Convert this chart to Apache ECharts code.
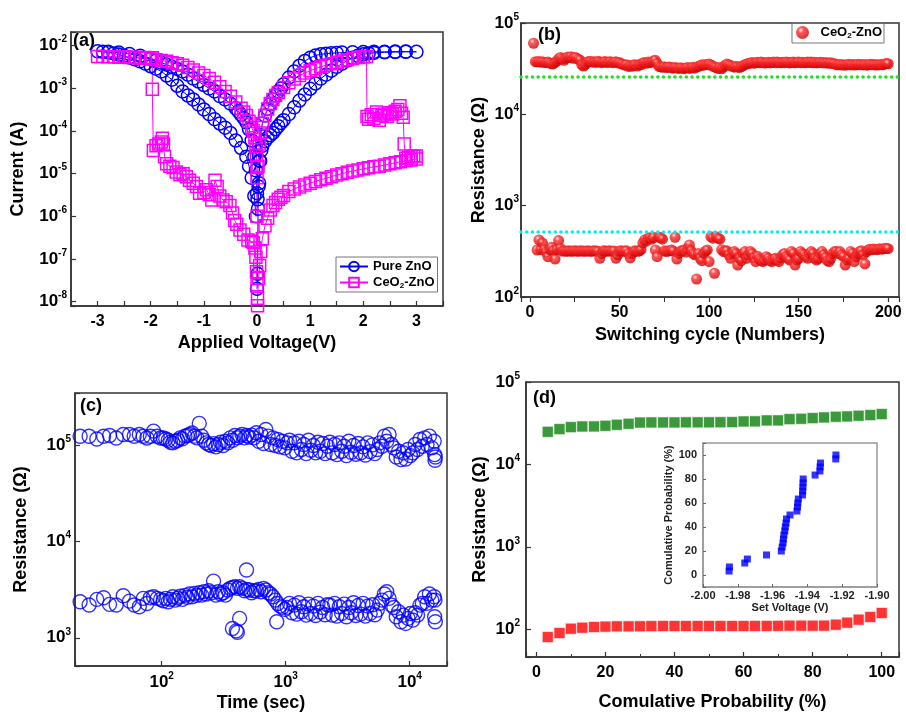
<!DOCTYPE html>
<html>
<head>
<meta charset="utf-8">
<title>CeO2-ZnO resistive switching</title>
<script src="https://cdn.jsdelivr.net/npm/echarts@6/dist/echarts.min.js"></script>
<style>
  html, body { margin: 0; padding: 0; background: #fff; }
  #chart { width: 906px; height: 713px; }
</style>
</head>
<body>
<div id="chart"></div>
<script>
// (a) I-V sweeps, [voltage (V), current (A)] in sweep order
var pureZnoIV = [
  [0, 2e-8], [0.01, 4.5e-8], [0.02, 1.5e-6], [0.04, 6e-6], [0.06, 2e-5], [0.08, 3.5e-5], [0.1, 4.5e-5], [0.15, 5.8e-5], [0.2, 7e-5], [0.25, 8e-5],
  [0.3, 9e-5], [0.35, 1.1e-4], [0.4, 1.3e-4], [0.45, 1.55e-4], [0.5, 1.8e-4], [0.6, 2.5e-4], [0.7, 3.6e-4], [0.8, 5.2e-4], [0.9, 7.2e-4], [1.0, 9.8e-4],
  [1.1, 1.3e-3], [1.2, 1.7e-3], [1.3, 2.1e-3], [1.4, 2.6e-3], [1.5, 3.2e-3], [1.6, 3.8e-3], [1.7, 4.5e-3], [1.8, 5.2e-3], [1.9, 5.8e-3], [2.0, 6.3e-3],
  [2.1, 6.6e-3], [2.2, 6.8e-3], [2.4, 7.0e-3], [2.6, 7.1e-3], [2.8, 7.2e-3], [3.0, 7.2e-3],
  [2.8, 7.3e-3], [2.6, 7.3e-3], [2.4, 7.2e-3], [2.2, 7.2e-3], [2.0, 7.1e-3], [1.8, 7.0e-3], [1.6, 6.9e-3], [1.5, 6.8e-3], [1.4, 6.7e-3], [1.3, 6.5e-3],
  [1.2, 6.3e-3], [1.1, 5.9e-3], [1.0, 5.2e-3], [0.9, 4.4e-3], [0.8, 3.4e-3], [0.7, 2.5e-3], [0.6, 1.8e-3], [0.5, 1.25e-3], [0.45, 1.0e-3], [0.4, 8.5e-4],
  [0.35, 6.8e-4], [0.3, 5.5e-4], [0.25, 4.3e-4], [0.2, 3.3e-4], [0.15, 2.3e-4], [0.1, 1.5e-4], [0.07, 8e-5], [0.05, 2e-5], [0.03, 5e-6], [0.01, 2.5e-6], [0, 3.5e-6],
  [-0.02, 1.2e-5], [-0.05, 2.5e-5], [-0.1, 6e-5], [-0.15, 1.1e-4], [-0.2, 1.6e-4], [-0.25, 2e-4], [-0.3, 2.4e-4], [-0.35, 2.9e-4], [-0.4, 3.4e-4], [-0.5, 4.4e-4],
  [-0.6, 5.5e-4], [-0.7, 6.6e-4], [-0.8, 8.5e-4], [-0.9, 1.0e-3], [-1.0, 1.2e-3], [-1.1, 1.45e-3], [-1.2, 1.7e-3], [-1.3, 2.1e-3], [-1.4, 2.5e-3], [-1.5, 2.85e-3],
  [-1.6, 3.2e-3], [-1.7, 3.6e-3], [-1.8, 4.0e-3], [-1.9, 4.5e-3], [-2.0, 5.0e-3], [-2.2, 5.8e-3], [-2.4, 6.4e-3], [-2.6, 6.9e-3], [-2.8, 7.2e-3], [-3.0, 7.4e-3],
  [-2.9, 7.2e-3], [-2.8, 7.0e-3], [-2.7, 6.6e-3], [-2.6, 6.2e-3], [-2.5, 5.8e-3], [-2.4, 5.3e-3], [-2.3, 4.8e-3], [-2.2, 4.3e-3], [-2.1, 3.8e-3], [-2.0, 3.3e-3],
  [-1.9, 2.9e-3], [-1.8, 2.5e-3], [-1.7, 2.0e-3], [-1.6, 1.6e-3], [-1.5, 1.15e-3], [-1.4, 8.5e-4], [-1.3, 6.8e-4], [-1.2, 5.5e-4], [-1.1, 4.2e-4], [-1.0, 3.2e-4],
  [-0.9, 2.5e-4], [-0.8, 1.9e-4], [-0.7, 1.5e-4], [-0.6, 1.2e-4], [-0.5, 9e-5], [-0.4, 6e-5], [-0.3, 4e-5], [-0.2, 2.5e-5], [-0.15, 1.5e-5], [-0.1, 8e-6],
  [-0.05, 3e-6], [-0.02, 1e-6]
];

var ceoZnoIV = [
  [0, 2.5e-8], [-0.01, 5e-8], [-0.02, 1.1e-7], [-0.04, 1.8e-7], [-0.07, 2.4e-7], [-0.1, 2.6e-7], [-0.17, 2.8e-7], [-0.25, 3.8e-7], [-0.32, 4.8e-7], [-0.38, 6.5e-7],
  [-0.42, 8e-7], [-0.46, 1.2e-6], [-0.51, 1.8e-6], [-0.58, 2.2e-6], [-0.64, 2.4e-6], [-0.7, 3e-6], [-0.75, 5e-6], [-0.79, 7e-6], [-0.85, 2.4e-6], [-0.9, 3.2e-6],
  [-0.95, 4.2e-6], [-1.0, 3.6e-6], [-1.08, 3.5e-6], [-1.14, 5e-6], [-1.2, 6e-6], [-1.27, 7e-6], [-1.33, 8.5e-6], [-1.39, 1.0e-5], [-1.45, 9.5e-6], [-1.52, 1.1e-5],
  [-1.58, 1.4e-5], [-1.64, 1.5e-5], [-1.7, 1.7e-5], [-1.74, 2.5e-5], [-1.76, 5e-5], [-1.78, 6.8e-5], [-1.8, 5.5e-5], [-1.85, 5e-5], [-1.9, 4.5e-5], [-1.95, 3.5e-5],
  [-1.97, 9.5e-4], [-1.97, 5.2e-3],
  [-2.1, 5.3e-3], [-2.3, 5.4e-3], [-2.5, 5.5e-3], [-2.7, 5.5e-3], [-2.9, 5.6e-3], [-3.0, 5.6e-3],
  [-2.8, 5.5e-3], [-2.6, 5.4e-3], [-2.4, 5.3e-3], [-2.2, 5.1e-3], [-2.0, 4.9e-3], [-1.9, 4.7e-3], [-1.8, 4.5e-3], [-1.7, 4.3e-3], [-1.6, 4.0e-3], [-1.5, 3.8e-3],
  [-1.4, 3.5e-3], [-1.3, 3.1e-3], [-1.2, 2.7e-3], [-1.1, 2.3e-3], [-1.0, 2.0e-3], [-0.9, 1.7e-3], [-0.8, 1.4e-3], [-0.7, 1.1e-3], [-0.6, 8.5e-4], [-0.5, 6.5e-4],
  [-0.4, 4.8e-4], [-0.3, 3.4e-4], [-0.25, 2.8e-4], [-0.2, 2.3e-4], [-0.15, 1.7e-4], [-0.1, 1.2e-4], [-0.07, 1.0e-4], [-0.04, 7e-5], [-0.02, 4.3e-5], [-0.01, 2.7e-5],
  [0, 1.4e-5], [0, 8e-6], [0, 1e-6],
  [0.02, 1.5e-5], [0.04, 5e-5], [0.06, 9e-5], [0.1, 1.5e-4], [0.15, 2.3e-4], [0.2, 3.3e-4], [0.25, 4.4e-4], [0.3, 5.5e-4], [0.35, 6.8e-4], [0.4, 8e-4],
  [0.5, 1.05e-3], [0.6, 1.35e-3], [0.7, 1.65e-3], [0.8, 2.0e-3], [0.9, 2.3e-3], [1.0, 2.6e-3], [1.1, 2.9e-3], [1.2, 3.2e-3], [1.3, 3.5e-3], [1.4, 3.8e-3],
  [1.5, 4.1e-3], [1.6, 4.4e-3], [1.7, 4.7e-3], [1.8, 5.0e-3], [1.9, 5.3e-3], [2.0, 5.5e-3], [2.06, 5.6e-3],
  [2.07, 2.2e-4], [2.1, 1.9e-4], [2.15, 2.4e-4], [2.2, 2.0e-4], [2.25, 2.8e-4], [2.3, 1.8e-4], [2.35, 2.3e-4], [2.4, 2.5e-4], [2.45, 2.2e-4], [2.5, 2.7e-4],
  [2.55, 2.5e-4], [2.6, 2.9e-4], [2.65, 3.2e-4], [2.69, 3.9e-4], [2.72, 2.6e-4], [2.75, 2.1e-4], [2.77, 5e-5], [2.8, 2.3e-5], [2.85, 2.4e-5], [2.9, 2.5e-5],
  [2.95, 2.6e-5], [3.0, 2.6e-5],
  [3.0, 2.2e-5], [2.9, 2.1e-5], [2.8, 2.0e-5], [2.7, 1.9e-5], [2.6, 1.8e-5], [2.5, 1.7e-5], [2.4, 1.6e-5], [2.3, 1.5e-5], [2.2, 1.45e-5], [2.1, 1.38e-5],
  [2.0, 1.3e-5], [1.9, 1.22e-5], [1.8, 1.15e-5], [1.7, 1.08e-5], [1.6, 1.0e-5], [1.5, 9.3e-6], [1.4, 8.5e-6], [1.3, 7.8e-6], [1.2, 7.2e-6], [1.1, 6.6e-6],
  [1.0, 6e-6], [0.9, 5.4e-6], [0.8, 4.9e-6], [0.7, 4.4e-6], [0.6, 3.8e-6], [0.5, 3.1e-6], [0.45, 2.8e-6], [0.4, 2.5e-6], [0.35, 2.1e-6], [0.3, 1.8e-6],
  [0.25, 1.4e-6], [0.2, 9e-7], [0.15, 6e-7], [0.1, 3e-7], [0.07, 1.5e-7], [0.05, 7e-8], [0.03, 3.5e-8], [0.01, 1.2e-8], [0.01, 8e-9]
];

// (b) endurance: resistance (ohm) for switching cycle = index + 1
var enduranceHrs = [
  null, 60000,
  37700, 37500, 37800, 37200, 37600, 37000, 36800, 37300, 36500, 35800, 35600,
  37000, 38500, 40500, 42000, 40500, 39000, 41000, 42500, 41800, 42800, 41000, 42000, 41500, 40000, 39200,
  34500, 33800, 35200,
  37500, 37800, 38000, 37200, 37600, 37000, 38200, 37400, 36800, 37300, 37800, 36900, 37400, 37700, 36800, 37200, 37600, 36500, 36900, 35800, 35200,
  34500, 35000, 33500, 34200, 33600, 35000, 34600, 33800, 35200, 34900,
  36500, 37000, 36200, 37300, 36800, 37500, 38500, 39000, 36000,
  33500, 33000, 32800, 33200, 32500, 32800, 33000, 32400, 32000, 32600, 32200, 31800, 32400, 32000, 31600, 32200, 32500, 31800, 32300, 32700, 32000, 33000, 33500, 34000,
  35000, 34500, 35200, 34800, 35500, 34600, 33800, 33000,
  32500, 31800, 32600, 31500, 32800, 34500,
  35500, 34800, 34200, 33500, 32800, 33600, 33000, 32500, 33400, 34200, 35000, 35600, 36000,
  36500, 37000, 36200, 36800, 37200, 36600, 37400, 37000, 36400, 36800, 37100, 36500, 36900, 37300, 36700, 37500, 37000, 36600, 37200, 36800,
  37400, 37000, 36500, 36900, 37300, 36700, 37100, 37500, 36800, 37200, 36600, 37000, 37400, 36900, 37300, 36700, 37100, 36500, 36900, 37200,
  36600, 37000, 36400, 36800, 36200, 36600, 36000, 35800,
  35000, 34800, 35200, 34600, 35000, 34500, 34900, 35300, 34700, 35100, 34600, 35000, 35400, 34800, 35200, 34700, 35100, 34500, 34900, 35300,
  34800, 35100, 34600, 35000, 34700,
  35200, 34800, 35500, 36000, 35800
];
var enduranceLrs = [
  null, null, null,
  327, 421, 330, 390, 330, 310, 276, 330, 350, 320, 260, 330, 415, 340,
  318, 320, 316, 318, 320, 317, 319, 321, 318, 316, 320, 318, 319, 317, 320, 318, 316, 319, 321, 318, 316,
  265, 300, 320, 318, 316, 320, 318, 317, 319, 265, 290, 318, 320, 316, 318, 320, 300, 268, 300, 318, 320, 316, 318, 330, 390,
  421, 410, 440, 445, 430, 450, 327, 276, 450, 445, 430, 320,
  315, 318, 320, 327, 318, 450, 260, 300, 318, 320, 327, 310, 340, 371, 320, 300, 290, 157, 300, 265,
  250, 300, 318, 327, 244, 457, 440, 182, 457, 440, 430, 330, 314, 318, 320,
  290, 265, 300, 314, 300, 224, 265, 250, 300, 314, 265, 290, 314, 300, 270, 244, 280, 260, 250, 244,
  254, 276, 265, 250, 244, 260, 265, 254, 244, 270, 290, 300, 276, 265, 254, 314, 300, 224, 254, 265,
  314, 300, 290, 276, 265, 300, 314, 300, 265, 254, 265, 300, 314, 290, 270, 250, 244, 265, 300, 314, 314, 300, 314,
  290, 276, 224, 254, 265, 314, 300, 244, 276, 300, 314, 320, 290, 230, 314,
  330, 334, 330, 336, 332, 330, 338, 334, 336, 340, 342, 338
];
var hrsGuide = 26000;
var lrsGuide = 520;

// (c) retention: time (s) and resistance (ohm)
var retentionTime = [
  22, 26, 30, 34, 38, 43, 49, 55, 60, 66, 71, 76, 81, 86, 92, 98,
  103, 108, 113, 118, 123, 129, 135, 141, 147, 154, 161, 168, 176, 184, 192, 201, 210, 219, 229, 240,
  251, 262, 274, 286, 299, 313, 327, 342, 357, 373, 390, 408, 426, 445, 465, 486, 508, 531, 555,
  580, 606, 633, 662, 692, 723, 755, 789, 825, 862, 901, 942, 984, 1028,
  1074, 1123, 1173, 1226, 1281, 1339, 1399, 1462, 1528, 1597, 1669, 1744, 1822, 1904, 1990, 2080, 2173,
  2271, 2373, 2480, 2592, 2708, 2830, 2958, 3091, 3230, 3375, 3527, 3686, 3852, 4025, 4206, 4396, 4593, 4800, 5016, 5242,
  5478, 5725, 5982, 6252, 6533, 6827, 7135,
  7456, 7791, 8142, 8509, 8891, 9292, 9710, 10147,
  10603, 11080, 11579, 12100, 12645, 13214, 13809, 14430, 15079, 15758,
  15900, 16000, 16100
];
var retentionHrs = [
  123000, 123000, 115000, 123000, 125000, 118000, 128000, 128000, 123000, 128000, 123000, 118000, 123000, 139000, 123000, 118000,
  118000, 115000, 111800, 106600, 104900, 109200, 111800, 118300, 115500, 123100, 125100, 128100, 133000, 123100, 118300, 167000, 123100, 111800, 104900, 100800,
  98400, 103000, 95300, 100800, 106600, 98400, 109200, 104900, 118300, 111800, 125100, 118300, 123100, 128100, 118300, 125100, 120200, 126100, 118300,
  133400, 109200, 128100, 103250, 144400, 123100, 100800, 118300, 98420, 113700, 95330, 109200, 93070, 104900,
  111800, 85900, 104900, 82540, 109200, 89410, 100800, 81230, 111800, 87990, 98420, 82540, 106600, 85900, 103250, 81230, 96850,
  106600, 82540, 100800, 79300, 104900, 85900, 96850, 77430, 109200, 83860, 98420, 79950, 103250, 82540, 95330, 78660, 104900, 85210, 100000, 81230,
  89410, 104900, 96850, 123100, 109200, 128100, 100800,
  93070, 74990, 85900, 70340, 82540, 71480, 89410, 77430,
  82540, 100800, 89410, 113700, 96850, 118300, 100800, 123100, 93070, 109200,
  79300, 69220, 74990
];
var retentionLrs = [
  2365, 2185, 2500, 2600, 2220, 2185, 2730, 2400, 2185, 2100, 2560, 2270, 2600, 2665, 2560, 2500,
  2420, 2560, 2365, 2500, 2665, 2460, 2580, 2700, 2500, 2750, 2625, 2840, 2665, 2885, 2750, 2930, 2770, 3000, 2840, 3070,
  2930, 3870, 2770, 3000, 2840, 2930, 2770, 3125, 3250, 3320, 3380, 3250, 3380, 3250, 3070, 3180, 3125, 2930, 3070,
  3070, 3180, 3000, 3250, 3125, 2930, 2840, 2665, 2460, 2270, 2130, 2065, 1970, 2065,
  2272, 1818, 2183, 1761, 2308, 1862, 2098, 1719, 2236, 1789, 2132, 1705, 2272, 1847, 2064, 1733, 2201,
  2183, 1719, 2272, 1678, 2098, 1789, 2236, 1652, 2064, 1818, 2308, 1705, 2165, 1761, 2272, 1678, 2132, 1789, 2201, 1733,
  1937, 2272, 2460, 2840, 3002, 2560, 2183,
  2064, 1652, 1862, 1466, 1719, 1409, 1588, 1789,
  1525, 1818, 1719, 2183, 2272, 2665, 2272, 2840, 2460, 2665,
  1652, 2460, 1466
];
var retentionLrsOutTime = [372, 400, 408, 425, 483, 847];
var retentionLrsOut = [1250, 1180, 1140, 1590, 5040, 1466];

// (d) cumulative distribution
var cumProb = [3.3, 6.7, 10, 13.3, 16.7, 20, 23.3, 26.7, 30, 33.3, 36.7, 40, 43.3, 46.7, 50,
  53.3, 56.7, 60, 63.3, 66.7, 70, 73.3, 76.7, 80, 83.3, 86.7, 90, 93.3, 96.7, 100];
var distHrs = [24860, 26800, 28340, 28870, 28900, 29420, 30250, 31110, 32200, 32300, 32300, 32300, 32400, 32400, 32400,
  32500, 32600, 33210, 33300, 34170, 34200, 35450, 35790, 36470, 37150, 37850, 38210, 38940, 39670, 40800];
var distLrs = [80.3, 89.8, 101.4, 104.3, 106.3, 107.5, 108.3, 108.3, 108.5, 109, 109.3, 109.3, 109.3, 109.3, 109.3,
  109.3, 109.3, 109.3, 109.5, 109.5, 109.8, 110.3, 110.3, 110.3, 110.5, 113.4, 120, 130.5, 140.7, 157.3];
var setVoltage = [-1.985, -1.9848, -1.976, -1.9745, -1.9635, -1.955, -1.9545, -1.954, -1.9538, -1.9535, -1.953, -1.9527, -1.9523, -1.952, -1.950,
  -1.946, -1.9457, -1.9455, -1.9452, -1.9428, -1.9427, -1.9426, -1.9425, -1.9424, -1.9356, -1.9328, -1.9327, -1.9325, -1.9237, -1.9236];

var FONT = "'Liberation Sans', Arial, Helvetica, sans-serif";

function powerLabel(v) {
  var e = Math.log(v) / Math.LN10;
  var r = Math.round(e);
  if (Math.abs(e - r) > 1e-6) return '';
  return '{b|10}{s|' + r + '}';
}
var logRich = {
  b: { fontSize: 17, fontWeight: 'bold', fontFamily: FONT, color: '#000', lineHeight: 22 },
  s: { fontSize: 10, fontWeight: 'bold', fontFamily: FONT, color: '#000', verticalAlign: 'top', lineHeight: 12 }
};

function ax(grid, extra) {
  var a = {
    gridIndex: grid,
    axisLine: { show: true, onZero: false, lineStyle: { color: '#333', width: 1.5 } },
    axisTick: { show: true, inside: true, length: 5, lineStyle: { color: '#333', width: 1.2 } },
    splitLine: { show: false },
    axisLabel: { color: '#000', fontSize: 16, fontWeight: 'bold', fontFamily: FONT },
    nameLocation: 'middle',
    nameTextStyle: { color: '#000', fontSize: 18, fontWeight: 'bold', fontFamily: FONT }
  };
  for (var k in extra) {
    if (a[k] && typeof extra[k] === 'object' && !Array.isArray(extra[k])) Object.assign(a[k], extra[k]);
    else a[k] = extra[k];
  }
  return a;
}

function pairs(xs, ys) {
  var out = [];
  for (var i = 0; i < ys.length; i++) if (ys[i] != null) out.push([xs[i], ys[i]]);
  return out;
}
function byCycle(vals) {
  var out = [];
  vals.forEach(function (v, i) { if (v != null) out.push([i + 1, v]); });
  return out;
}

var sphere = {
  type: 'radial', x: 0.38, y: 0.32, r: 0.7,
  colorStops: [
    { offset: 0, color: '#ffe6e6' },
    { offset: 0.3, color: '#ff3030' },
    { offset: 1, color: '#c80000' }
  ]
};
var hollowBlue = { color: 'rgba(0,0,255,0)', borderColor: '#0000ff', borderWidth: 1.4 };

var legendRich = {
  t: { fontSize: 13, fontWeight: 'bold', fontFamily: FONT, color: '#000', lineHeight: 15 },
  sub: { fontSize: 8, fontWeight: 'bold', fontFamily: FONT, color: '#000', verticalAlign: 'bottom', lineHeight: 8 }
};
function legendText(name) {
  if (name === 'Pure ZnO') return '{t|Pure ZnO}';
  return '{t|CeO}{sub|2}{t|-ZnO}';
}

var gridBox = { show: true, borderColor: '#333', borderWidth: 1.5, containLabel: false, outerBoundsMode: 'none' };

var option = {
  animation: false,
  backgroundColor: '#fff',
  grid: [
    Object.assign({ left: 71, top: 32, width: 372, height: 274 }, gridBox),
    Object.assign({ left: 521, top: 23, width: 378, height: 274 }, gridBox),
    Object.assign({ left: 75, top: 393, width: 372, height: 273 }, gridBox),
    Object.assign({ left: 526, top: 382, width: 373, height: 275 }, gridBox),
    Object.assign({ left: 703, top: 443, width: 174, height: 144 }, gridBox, { borderColor: '#999', backgroundColor: '#fff' })
  ],
  xAxis: [
    ax(0, { type: 'value', min: -3.5, max: 3.5, interval: 0.5, name: 'Applied Voltage(V)', nameGap: 28,
      axisLabel: { margin: 8, formatter: function (v) { return Math.abs(v - Math.round(v)) < 1e-9 ? String(Math.round(v)) : ''; } } }),
    ax(1, { type: 'value', min: -5, max: 206, name: 'Switching cycle (Numbers)', nameGap: 29,
      axisTick: { inside: false },
      minorTick: { show: true, splitNumber: 2, length: 5, lineStyle: { color: '#333' } },
      axisLabel: { margin: 8, formatter: function (v) { return v % 50 === 0 ? String(v) : ''; } } }),
    ax(2, { type: 'log', min: 20, max: 20000, name: 'Time (sec)', nameGap: 28,
      axisLabel: { margin: 5, formatter: powerLabel, rich: logRich } }),
    ax(3, { type: 'value', min: -3, max: 105, name: 'Comulative Probability (%)', nameGap: 36,
      minorTick: { show: true, splitNumber: 2, length: 3, lineStyle: { color: '#333' } },
      axisLabel: { margin: 8, formatter: function (v) { return v % 20 === 0 ? String(v) : ''; } } }),
    ax(4, { type: 'value', min: -2.0, max: -1.9, name: 'Set Voltage (V)', nameGap: 15,
      axisLine: { lineStyle: { color: '#999', width: 1.5 } },
      axisTick: { length: 3, lineStyle: { color: '#666' } },
      axisLabel: { margin: 3, fontSize: 11, fontWeight: 'bold', color: '#222', formatter: function (v) { return v.toFixed(2); } },
      nameTextStyle: { fontSize: 11, fontWeight: 'bold', color: '#222' } })
  ],
  yAxis: [
    ax(0, { type: 'log', min: 7.9e-9, max: 0.021, name: 'Current (A)', nameGap: 44,
      axisLabel: { margin: 4, formatter: powerLabel, rich: logRich } }),
    ax(1, { type: 'log', min: 100, max: 100000, name: 'Resistance (\u03a9)', nameGap: 33,
      axisLabel: { margin: 2, formatter: powerLabel, rich: logRich } }),
    ax(2, { type: 'log', min: 510, max: 345000, name: 'Resistance (\u03a9)', nameGap: 45,
      axisLabel: { margin: 4, formatter: powerLabel, rich: logRich } }),
    ax(3, { type: 'log', min: 46, max: 100000, name: 'Resistance (\u03a9)', nameGap: 37,
      axisLabel: { margin: 6, formatter: powerLabel, rich: logRich } }),
    ax(4, { type: 'value', min: -10, max: 110, name: 'Comulative Probability (%)', nameGap: 20,
      axisLine: { lineStyle: { color: '#999', width: 1.5 } },
      axisTick: { length: 3, lineStyle: { color: '#666' } },
      axisLabel: { margin: 6, fontSize: 11, fontWeight: 'bold', color: '#222',
        formatter: function (v) { return (v % 20 === 0 && v >= 0 && v <= 100) ? String(v) : ''; } },
      nameTextStyle: { fontSize: 11, fontWeight: 'bold', color: '#222' } })
  ],
  legend: [
    {
      data: ['Pure ZnO', 'CeO2-ZnO'], left: 336, top: 257, orient: 'vertical',
      itemWidth: 28, itemHeight: 12, itemGap: 3, padding: [3, 3, 2, 3],
      borderColor: '#777', borderWidth: 1, selectedMode: false,
      formatter: legendText, textStyle: { rich: legendRich }
    },
    {
      data: ['CeO2-ZnO b'], left: 792, top: 23,
      itemWidth: 26, itemHeight: 13, padding: [3, 2, 3, 4],
      borderColor: '#777', borderWidth: 1, selectedMode: false,
      formatter: legendText, textStyle: { rich: legendRich }
    }
  ],
  graphic: [
    { type: 'text', left: 73, top: 32, style: { text: '(a)', font: 'bold 18px ' + FONT, fill: '#000' } },
    { type: 'text', left: 538, top: 26, style: { text: '(b)', font: 'bold 18px ' + FONT, fill: '#000' } },
    { type: 'text', left: 80, top: 397, style: { text: '(c)', font: 'bold 18px ' + FONT, fill: '#000' } },
    { type: 'text', left: 533, top: 389, style: { text: '(d)', font: 'bold 18px ' + FONT, fill: '#000' } }
  ],
  series: [
    {
      name: 'Pure ZnO', type: 'line', xAxisIndex: 0, yAxisIndex: 0, data: pureZnoIV,
      symbol: 'circle', symbolSize: 13, showAllSymbol: true,
      lineStyle: { color: '#0000ff', width: 1 },
      itemStyle: { color: 'rgba(0,0,255,0)', borderColor: '#0000ff', borderWidth: 1.5 }, emphasis: { disabled: true }
    },
    {
      name: 'CeO2-ZnO', type: 'line', xAxisIndex: 0, yAxisIndex: 0, data: ceoZnoIV,
      symbol: 'rect', symbolSize: 12, showAllSymbol: true,
      lineStyle: { color: '#ff00ff', width: 1 },
      itemStyle: { color: 'rgba(255,0,255,0)', borderColor: '#ff00ff', borderWidth: 1.5 }, emphasis: { disabled: true }
    },
    {
      name: 'CeO2-ZnO b', type: 'scatter', xAxisIndex: 1, yAxisIndex: 1, data: byCycle(enduranceHrs),
      symbolSize: 11, itemStyle: { color: sphere }, emphasis: { disabled: true },
      markLine: {
        silent: true, symbol: 'none', label: { show: false },
        lineStyle: { color: '#22e022', width: 3.5, type: [0.1, 5.6], cap: 'round' },
        data: [{ yAxis: hrsGuide }]
      }
    },
    {
      name: 'CeO2-ZnO b', type: 'scatter', xAxisIndex: 1, yAxisIndex: 1, data: byCycle(enduranceLrs),
      symbolSize: 11, itemStyle: { color: sphere }, emphasis: { disabled: true },
      markLine: {
        silent: true, symbol: 'none', label: { show: false },
        lineStyle: { color: '#12e6f0', width: 3.5, type: [0.1, 5.6], cap: 'round' },
        data: [{ yAxis: lrsGuide }]
      }
    },
    {
      name: 'HRS retention', type: 'scatter', xAxisIndex: 2, yAxisIndex: 2,
      data: pairs(retentionTime, retentionHrs), symbol: 'circle', symbolSize: 14, itemStyle: hollowBlue, emphasis: { disabled: true }
    },
    {
      name: 'LRS retention', type: 'scatter', xAxisIndex: 2, yAxisIndex: 2,
      data: pairs(retentionTime, retentionLrs).concat(pairs(retentionLrsOutTime, retentionLrsOut)),
      symbol: 'circle', symbolSize: 14, itemStyle: hollowBlue, emphasis: { disabled: true }
    },
    {
      name: 'HRS dist', type: 'scatter', xAxisIndex: 3, yAxisIndex: 3, data: pairs(cumProb, distHrs),
      symbol: 'rect', symbolSize: 11, itemStyle: { color: '#0a800a', borderColor: 'rgba(255,255,255,0.7)', borderWidth: 1 }, emphasis: { disabled: true }
    },
    {
      name: 'LRS dist', type: 'scatter', xAxisIndex: 3, yAxisIndex: 3, data: pairs(cumProb, distLrs),
      symbol: 'rect', symbolSize: 11, itemStyle: { color: '#ff0000', borderColor: 'rgba(255,255,255,0.7)', borderWidth: 1 }, emphasis: { disabled: true }
    },
    {
      name: 'Set voltage', type: 'scatter', xAxisIndex: 4, yAxisIndex: 4, data: pairs(setVoltage, cumProb),
      symbol: 'rect', symbolSize: 7, itemStyle: { color: '#0000ff' }, emphasis: { disabled: true }, z: 5
    }
  ]
};

var chart = echarts.init(document.getElementById('chart'));
chart.setOption(option);
</script>
</body>
</html>
